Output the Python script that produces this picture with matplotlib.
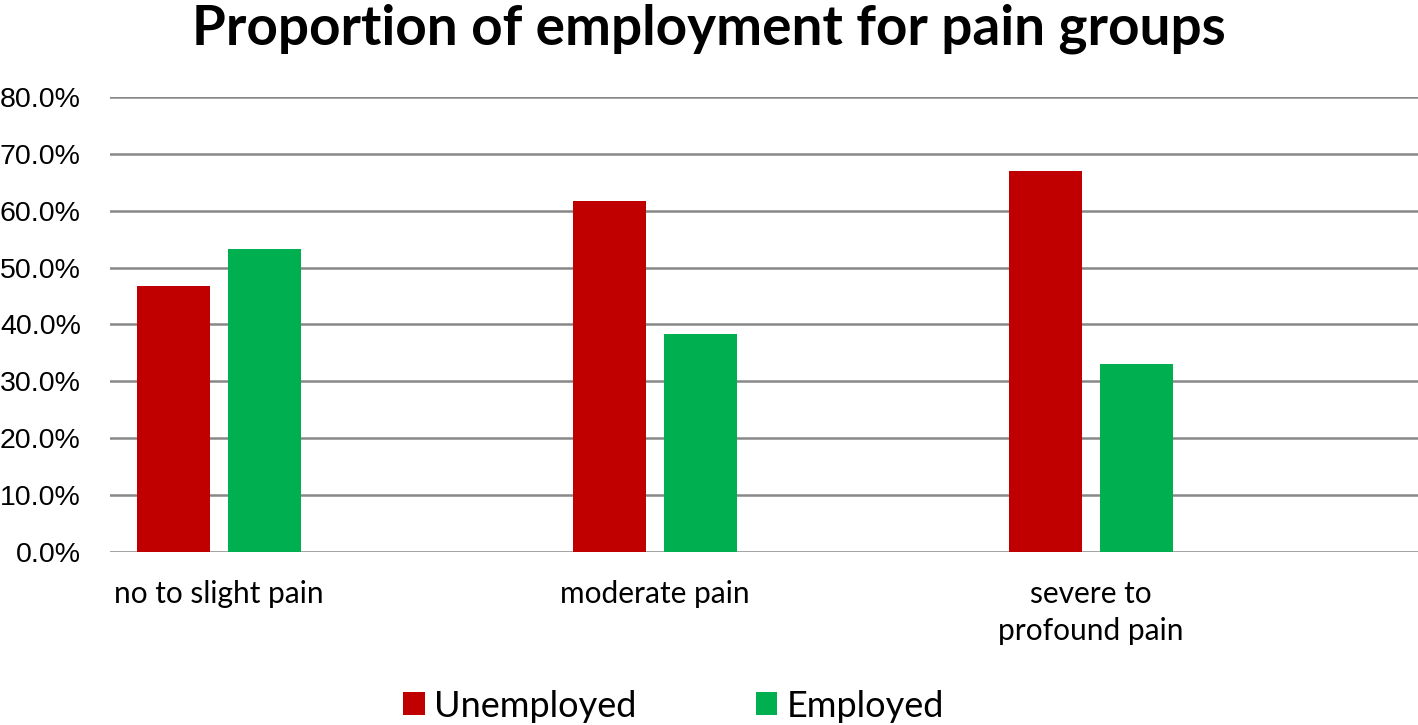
import matplotlib.pyplot as plt
import numpy as np
from matplotlib.ticker import PercentFormatter

categories = ['no to slight pain', 'moderate pain', 'severe to\nprofound pain']
unemployed = [46.7, 61.7, 67.0]
employed = [53.3, 38.3, 33.0]
yticks = [0, 10, 20, 30, 40, 50, 60, 70, 80]

plt.rcParams['font.family'] = ['Lato', 'DejaVu Sans']

fig = plt.figure(figsize=(14.18, 7.25), dpi=100)
ax = fig.add_axes([110 / 1418, 1 - 552 / 725, 1 - 110 / 1418, (552 - 97) / 725])

x = np.arange(len(categories))
w = 0.167
ax.bar(x - 0.104, unemployed, w, color='#C00000', label='Unemployed', zorder=3)
ax.bar(x + 0.104, employed, w, color='#00B050', label='Employed', zorder=3)

ax.set_xlim(-0.25, 2.75)
ax.set_ylim(0, 80)
ax.set_yticks(yticks)
ax.yaxis.set_major_formatter(PercentFormatter(decimals=1))
ax.grid(axis='y', color='#888888', linewidth=1.8, zorder=0)
ax.set_axisbelow(True)
for s in ax.spines.values():
    s.set_visible(False)
ax.tick_params(axis='y', length=0, pad=21)
for lab in ax.get_yticklabels():
    lab.set_fontfamily('Liberation Sans')
    lab.set_fontsize(20.5)
ax.set_xticks(x)
ax.set_xticklabels(categories, fontsize=21.5, linespacing=1.42, va='top')
ax.tick_params(axis='x', length=0, pad=20)

fig.suptitle('Proportion of employment for pain groups', fontsize=39.5,
             fontweight='bold', y=0.995, va='top')
fig.legend(loc='center', bbox_to_anchor=(0.475, 0.026), ncol=2, frameon=False,
           fontsize=26, handlelength=0.6, handleheight=0.6, handletextpad=0.25,
           columnspacing=3.3)

fig.savefig('out.png', dpi=100)
